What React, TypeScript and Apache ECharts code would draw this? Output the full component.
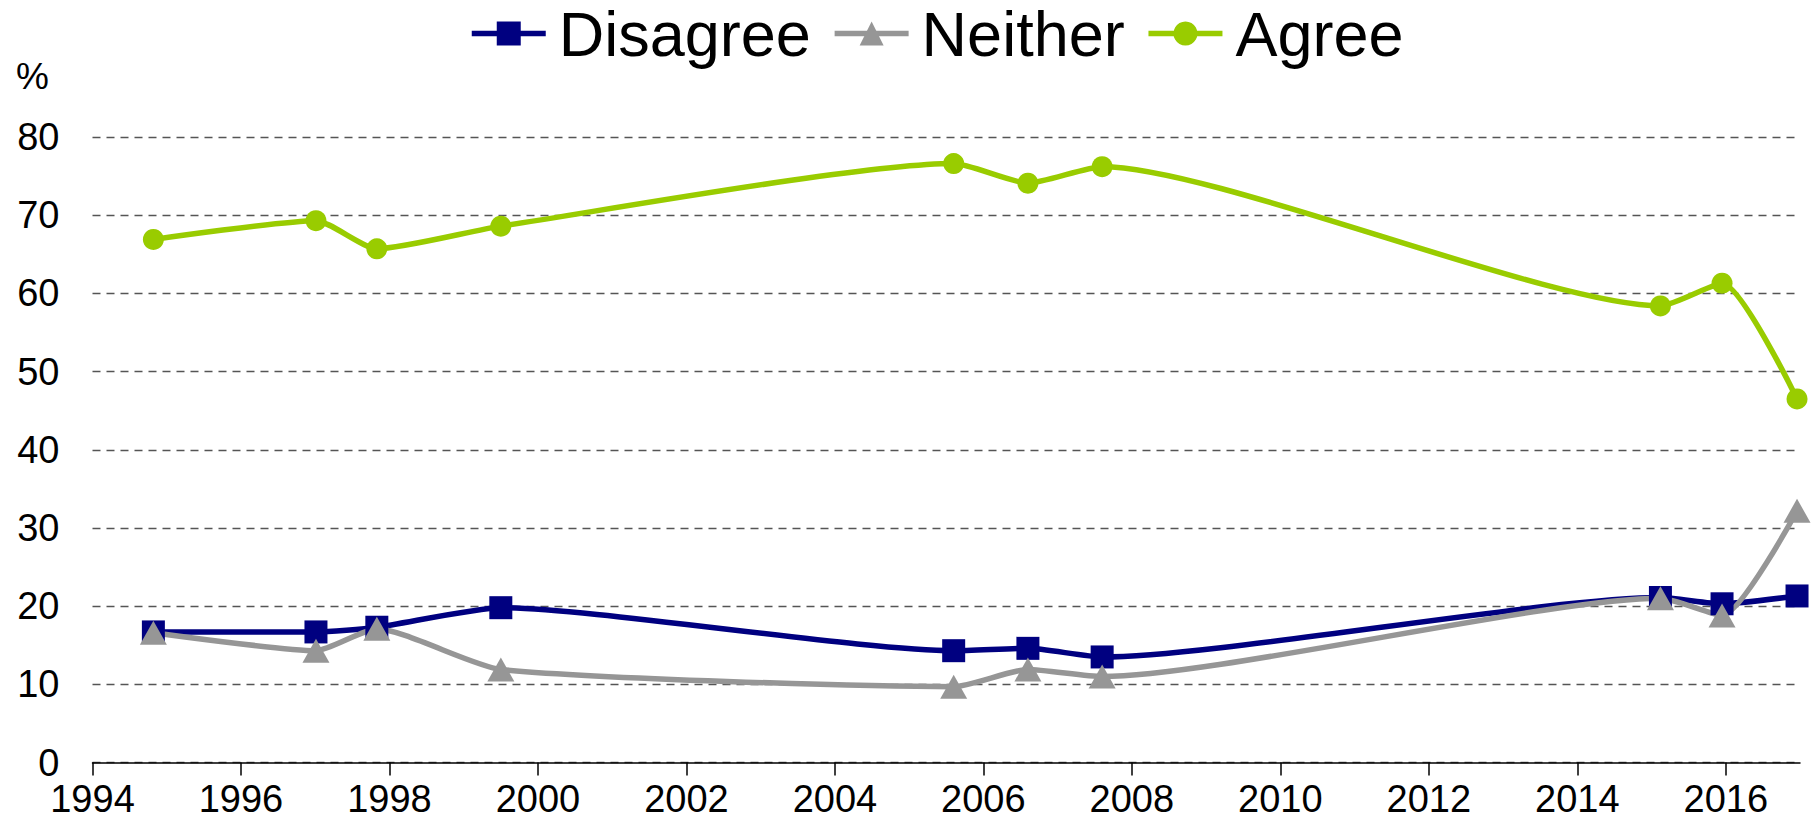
import React, { useEffect, useRef } from "react";
import * as echarts from "echarts";

// Survey waves (decimal years) shared by every series
const years = [1994.82, 1997.01, 1997.83, 1999.5, 2005.6, 2006.6, 2007.6, 2015.12, 2015.95, 2016.96];

const disagree = [16.7, 16.7, 17.3, 19.8, 14.3, 14.6, 13.5, 21.1, 20.3, 21.3];
const neither = [16.6, 14.3, 17.1, 11.9, 9.7, 11.9, 11.0, 21.0, 18.8, 32.2];
const agree = [66.9, 69.3, 65.7, 68.6, 76.6, 74.1, 76.2, 58.4, 61.3, 46.5];

const xTicks = [1994, 1996, 1998, 2000, 2002, 2004, 2006, 2008, 2010, 2012, 2014, 2016];

const FONT = "'Liberation Sans', Arial, Helvetica, sans-serif";

const pairs = (vals: number[]) => years.map((y, i) => [y, vals[i]]);

export default function App() {
  const ref = useRef<HTMLDivElement>(null);

  useEffect(() => {
    if (!ref.current) return;
    const chart = echarts.init(ref.current, null, { renderer: "svg" });

    const lineSeries = (
      name: string,
      vals: number[],
      color: string,
      symbol: string,
      symbolSize: number | number[]
    ) => ({
      name,
      type: "line",
      data: pairs(vals),
      smooth: 0.2,
      symbol,
      symbolSize,
      showAllSymbol: true,
      lineStyle: { color, width: 5.5 },
      itemStyle: { color },
      emphasis: { disabled: true },
    });

    chart.setOption({
      animation: false,
      textStyle: { fontFamily: FONT },
      legend: {
        data: ["Disagree", "Neither", "Agree"],
        top: -3,
        left: 464,
        itemWidth: 74,
        itemHeight: 30,
        itemGap: 21,
        lineStyle: { width: 5.5 },
        textStyle: { fontSize: 63, color: "#000", fontFamily: FONT, padding: [0, 0, 0, 8] },
      },
      grid: { left: 92.5, right: 13, top: 137, bottom: 63.5, containLabel: false },
      xAxis: {
        type: "value",
        min: 1994,
        max: 2017,
        axisLine: { lineStyle: { color: "#000", width: 1.5 } },
        axisTick: {
          show: true,
          customValues: xTicks,
          length: 13,
          lineStyle: { color: "#000", width: 1.5 },
        },
        axisLabel: {
          customValues: xTicks,
          formatter: (v: number) => String(v),
          fontSize: 38,
          color: "#000",
          margin: 17,
          fontFamily: FONT,
        },
        splitLine: { show: false },
      },
      yAxis: {
        type: "value",
        min: 0,
        max: 80,
        interval: 10,
        axisLine: { show: false },
        axisTick: { show: false },
        axisLabel: { fontSize: 38, color: "#000", margin: 33, fontFamily: FONT },
        splitLine: { lineStyle: { type: [8, 6], color: "#555", width: 1.3 } },
      },
      graphic: [
        {
          type: "text",
          left: 16,
          top: 58,
          style: { text: "%", fontSize: 37, fill: "#000", fontFamily: FONT },
        },
      ],
      series: [
        lineSeries("Disagree", disagree, "#000080", "rect", 23),
        lineSeries("Neither", neither, "#969696", "triangle", [27, 24]),
        lineSeries("Agree", agree, "#99CC00", "circle", 21),
      ],
    });

    return () => chart.dispose();
  }, []);

  return (
    <div
      ref={ref}
      style={{ position: "fixed", left: 0, top: 0, width: 1813, height: 826, background: "#fff" }}
    />
  );
}
